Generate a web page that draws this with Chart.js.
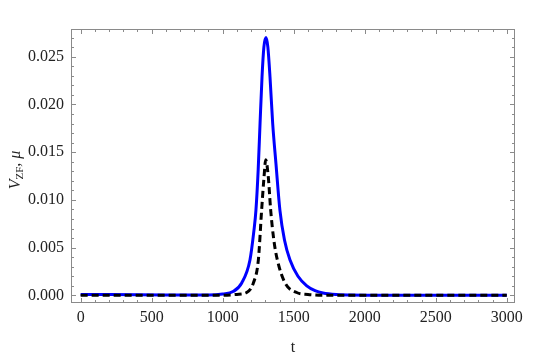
<!DOCTYPE html>
<html>
<head>
<meta charset="utf-8">
<script src="https://cdn.jsdelivr.net/npm/chart.js@4"></script>
<style>
  html, body { margin: 0; padding: 0; background: #fff; }
  #wrap { width: 545px; height: 357px; }
</style>
</head>
<body>
<div id="wrap"><canvas id="c" width="545" height="357"></canvas></div>
<script>
// values
const blueT = [0, 600, 900, 1000, 1073, 1134, 1192, 1220, 1234, 1250, 1263, 1277, 1290, 1305, 1318, 1333, 1352, 1375, 1403, 1435, 1474, 1530, 1592, 1650, 1706, 1800, 1900, 2000, 3000];
const blueV = [0.0001, 0.00005, 0.00005, 0.00015, 0.0004, 0.0013, 0.0037, 0.0068, 0.0089, 0.0132, 0.0180, 0.0229, 0.0260, 0.0270, 0.0260, 0.0229, 0.0180, 0.0138, 0.0089, 0.0058, 0.0037, 0.0020, 0.0010, 0.0005, 0.00025, 0.00008, 0.00003, 0.00002, 0.00002];

const blackT = [0, 1000, 1100, 1169, 1216, 1251, 1274, 1291, 1303, 1321, 1338, 1360, 1385, 1439, 1521, 1600, 1700, 3000];
const blackV = [0.00002, 0.00002, 0.0001, 0.0003, 0.0013, 0.0037, 0.0089, 0.0124, 0.0142, 0.0124, 0.0089, 0.0058, 0.0037, 0.0013, 0.0003, 0.0001, 0.00002, 0.00002];

const xTicks = [0, 500, 1000, 1500, 2000, 2500, 3000];
const yTicks = [0, 0.005, 0.010, 0.015, 0.020, 0.025];
const xMinorStep = 100;
const yMinorStep = 0.001;

const FRAME = '#8a8a8a';
const SERIF = "'Liberation Serif', 'DejaVu Serif', serif";

const toPoints = (ts, vs) => ts.map((t, i) => ({ x: t, y: vs[i] }));

// inward ticks on all four sides plus the gray frame
const framePlugin = {
  id: 'frame',
  afterDraw(chart) {
    const { ctx, chartArea: a, scales: { x, y } } = chart;
    ctx.save();
    ctx.strokeStyle = FRAME;
    ctx.lineWidth = 1;
    ctx.strokeRect(a.left + 0.5, a.top + 0.5, a.right - a.left - 1, a.bottom - a.top - 1);
    ctx.beginPath();
    for (let v = 0; v <= 3000 + 1e-9; v += xMinorStep) {
      const px = Math.round(x.getPixelForValue(v)) + 0.5;
      const len = xTicks.includes(Math.round(v)) ? 5 : 3;
      ctx.moveTo(px, a.bottom); ctx.lineTo(px, a.bottom - len);
      ctx.moveTo(px, a.top); ctx.lineTo(px, a.top + len);
    }
    for (let i = 0; i <= 27; i++) {
      const v = i * yMinorStep;
      const py = Math.round(y.getPixelForValue(v)) + 0.5;
      const len = i % 5 === 0 ? 5 : 3;
      ctx.moveTo(a.left, py); ctx.lineTo(a.left + len, py);
      ctx.moveTo(a.right, py); ctx.lineTo(a.right - len, py);
    }
    ctx.stroke();

    // y axis title: V_ZF, μ (rotated)
    const cy = (a.top + a.bottom) / 2 + 4;
    ctx.translate(16, cy);
    ctx.rotate(-Math.PI / 2);
    ctx.fillStyle = '#222';
    ctx.textBaseline = 'middle';
    const parts = [
      { t: 'V', f: 'italic 16px ' + SERIF, dy: 0 },
      { t: 'ZF', f: '11px ' + SERIF, dy: 4 },
      { t: ', ', f: '16px ' + SERIF, dy: 0 },
      { t: 'μ', f: 'italic 16px ' + SERIF, dy: 0 },
    ];
    let total = 0;
    parts.forEach(p => { ctx.font = p.f; p.w = ctx.measureText(p.t).width; total += p.w; });
    let cx = -total / 2;
    parts.forEach(p => { ctx.font = p.f; ctx.fillText(p.t, cx, p.dy); cx += p.w; });
    ctx.restore();
  },
};

new Chart(document.getElementById('c'), {
  type: 'line',
  data: {
    datasets: [
      {
        label: 'mu', data: toPoints(blackT, blackV),
        borderColor: '#000', borderWidth: 3, borderDash: [7, 4], borderCapStyle: 'butt',
        pointRadius: 0, fill: false, cubicInterpolationMode: 'monotone',
      },
      {
        label: 'V_ZF', data: toPoints(blueT, blueV),
        borderColor: '#0000ff', borderWidth: 3,
        pointRadius: 0, fill: false, cubicInterpolationMode: 'monotone',
      },
    ],
  },
  options: {
    responsive: false, animation: false,
    layout: { padding: { left: 0, top: 29, right: 30, bottom: 0 } },
    plugins: { legend: { display: false }, tooltip: { enabled: false } },
    scales: {
      x: {
        type: 'linear', min: -68, max: 3058,
        afterFit: s => { s.height = 54; },
        afterBuildTicks: s => { s.ticks = xTicks.map(v => ({ value: v })); },
        grid: { display: false, drawTicks: false },
        border: { display: false },
        ticks: { color: '#222', padding: 5, font: { family: SERIF, size: 16 }, maxRotation: 0, autoSkip: false, callback: v => String(v) },
        title: { display: true, text: 't', color: '#222', font: { family: SERIF, size: 16 }, padding: { top: 0, bottom: 0 } },
      },
      y: {
        type: 'linear', min: -0.0008, max: 0.0279,
        afterFit: s => { s.width = 71; },
        afterBuildTicks: s => { s.ticks = yTicks.map(v => ({ value: v })); },
        grid: { display: false, drawTicks: false },
        border: { display: false },
        ticks: { color: '#222', padding: 7, font: { family: SERIF, size: 16 }, autoSkip: false, callback: v => v.toFixed(3) },
      },
    },
  },
  plugins: [framePlugin],
});
</script>
</body>
</html>
